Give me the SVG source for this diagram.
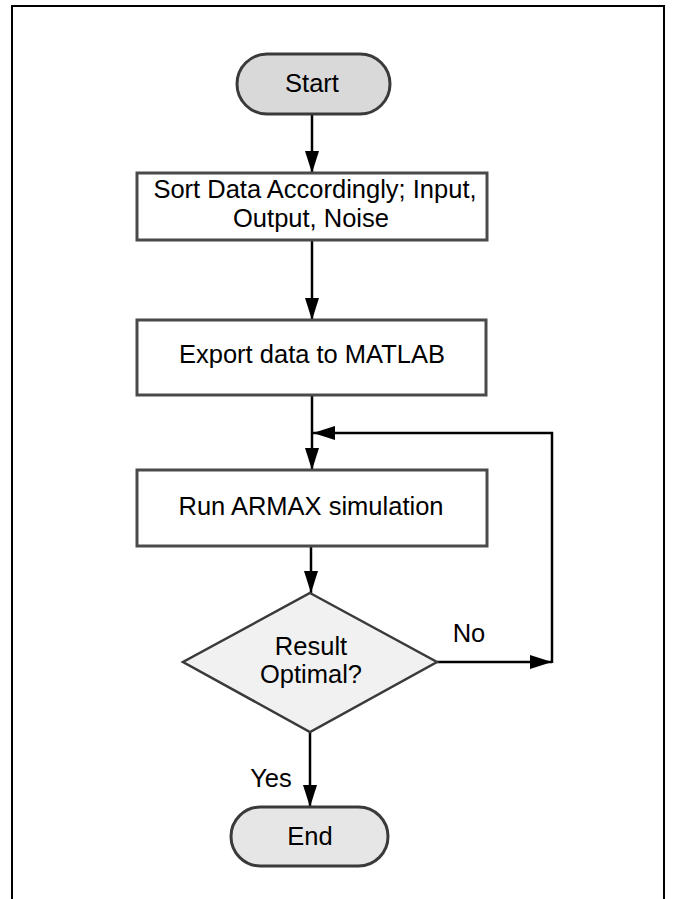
<svg xmlns="http://www.w3.org/2000/svg" width="676" height="899" viewBox="0 0 676 899">
  <style>
    .frame { fill: none; stroke: #000; stroke-width: 2; }
    .box { fill: #fff; stroke: #4a4a4a; stroke-width: 3; }
    .term { stroke: #3a3a3a; stroke-width: 3; }
    .dec { fill: #f1f1f1; stroke: #3a3a3a; stroke-width: 2.5; }
    .lbl { font-family: "Liberation Sans", Arial, sans-serif; font-size: 25.5px; fill: #000; text-anchor: middle; }
    .edge { fill: none; stroke: #000; stroke-width: 2.5; }
  </style>
  <defs>
    <marker id="arrow" viewBox="0 0 22 14" refX="22" refY="7" markerWidth="22" markerHeight="14" markerUnits="userSpaceOnUse" orient="auto">
      <path d="M0,0 L22,7 L0,14 Z" fill="#000"/>
    </marker>
  </defs>

  <rect width="676" height="899" fill="#fff"/>

  <!-- page frame -->
  <path class="frame" d="M12,905 L12,6 L664,6 L664,905"/>

  <!-- connectors -->
  <g id="connectors">
    <line class="edge" x1="312" y1="114" x2="312" y2="173" marker-end="url(#arrow)"/>
    <line class="edge" x1="312" y1="240" x2="312" y2="320" marker-end="url(#arrow)"/>
    <line class="edge" x1="312" y1="395" x2="312" y2="470" marker-end="url(#arrow)"/>
    <line class="edge" x1="311" y1="546" x2="311" y2="593" marker-end="url(#arrow)"/>
    <line class="edge" x1="310" y1="732" x2="310" y2="807" marker-end="url(#arrow)"/>
    <line class="edge" x1="437" y1="662" x2="552" y2="662" marker-end="url(#arrow)"/>
    <line class="edge" x1="552" y1="663" x2="552" y2="432"/>
    <line class="edge" x1="553" y1="433" x2="313" y2="433" marker-end="url(#arrow)"/>
    <text class="lbl" x="469" y="642">No</text>
    <text class="lbl" x="271" y="787">Yes</text>
  </g>

  <g id="start">
    <rect class="term" x="237" y="54" width="153" height="60" rx="30" ry="30" fill="#d9d9d9"/>
    <text class="lbl" x="312" y="92">Start</text>
  </g>

  <g id="sort">
    <rect class="box" x="137" y="173" width="350" height="67"/>
    <text class="lbl" x="315" y="198">Sort Data Accordingly; Input,</text>
    <text class="lbl" x="311" y="227">Output, Noise</text>
  </g>

  <g id="export">
    <rect class="box" x="137" y="320" width="349" height="75"/>
    <text class="lbl" x="312" y="363">Export data to MATLAB</text>
  </g>

  <g id="armax">
    <rect class="box" x="137" y="470" width="350" height="76"/>
    <text class="lbl" x="311" y="515">Run ARMAX simulation</text>
  </g>

  <g id="decision">
    <polygon class="dec" points="310,593 437,662 310,732 183,662"/>
    <text class="lbl" x="311" y="655">Result</text>
    <text class="lbl" x="311" y="683">Optimal?</text>
  </g>

  <g id="end">
    <rect class="term" x="231" y="807" width="157" height="59" rx="29.5" ry="29.5" fill="#e6e6e6"/>
    <text class="lbl" x="310" y="845">End</text>
  </g>
</svg>
